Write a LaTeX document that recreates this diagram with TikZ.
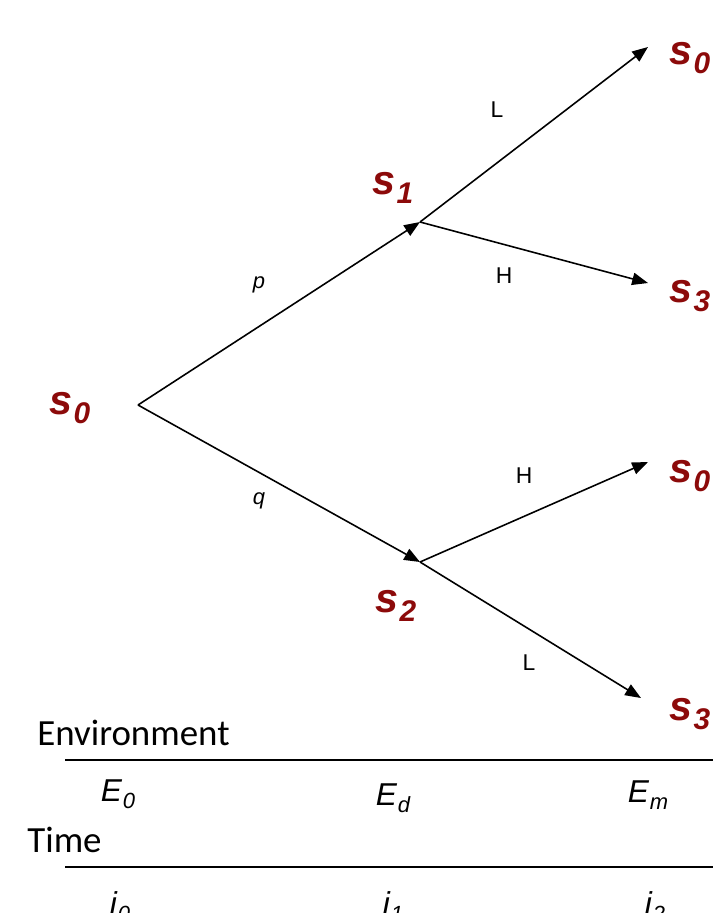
\documentclass[tikz,border=0pt]{standalone}
\usepackage{fontspec}
\setmainfont{Liberation Sans}
\newfontfamily\calfont{Carlito}
\usetikzlibrary{arrows.meta,positioning}

\definecolor{statered}{RGB}{140,10,10}

% state label s_k
\newcommand{\st}[1]{s\kern0.5pt\raisebox{-5pt}{\fontsize{17}{17}\selectfont #1}}
\newcommand{\ev}[1]{E\kern0.5pt\raisebox{-4pt}{\fontsize{12.5}{12.5}\selectfont #1}}
\newcommand{\ti}[1]{i\kern0.5pt\raisebox{-4pt}{\fontsize{12.5}{12.5}\selectfont #1}}

\begin{document}
\begin{tikzpicture}[
  x=0.02cm, y=-0.02cm,
  state/.style={text=statered, font=\fontsize{23.5}{23.5}\selectfont\bfseries\itshape,
                inner sep=0pt},
  move/.style={font=\fontsize{13}{13}\selectfont, inner sep=1pt},
  prob/.style={move, font=\fontsize{12.5}{12.5}\selectfont\itshape},
  axis/.style={font=\calfont\fontsize{21}{21}\selectfont, inner sep=0pt, anchor=west},
  tick/.style={font=\fontsize{18}{18}\selectfont\itshape, inner sep=0pt},
  branch/.style={-{Triangle[length=9pt,width=7pt]}, line width=0.9pt, black},
]
\clip (0,0) rectangle (713,913);

%% tree points
\coordinate (root) at (138,405);
\coordinate (j1)   at (420,222);
\coordinate (j2)   at (420,562);
\coordinate (t1)   at (648,47);
\coordinate (t2)   at (648,283);
\coordinate (t3)   at (648,462);
\coordinate (t4)   at (641,698);

%% state labels
\node[state] (s0root) at (70,408)  {\st{0}};
\node[state] (s1)     at (393,188) {\st{1}};
\node[state] (s2)     at (396,606) {\st{2}};
\node[state] (s0a)    at (690,58)  {\st{0}};
\node[state] (s3a)    at (690,296) {\st{3}};
\node[state] (s0b)    at (690,476) {\st{0}};
\node[state] (s3b)    at (690,714) {\st{3}};

%% branches
\draw[branch] (root) -- (j1);
\draw[branch] (root) -- (j2);
\draw[branch] (j1) -- (t1);
\draw[branch] (j1) -- (t2);
\draw[branch] (j2) -- (t3);
\draw[branch] (j2) -- (t4);

%% branch labels
\node[prob] (p)  at (259,285) {p};
\node[prob] (q)  at (259,501) {q};
\node[move] (L1) at (497,110) {L};
\node[move] (H1) at (504,276) {H};
\node[move] (H2) at (524,476) {H};
\node[move] (L2) at (529,663) {L};

%% environment and time rows
\node[axis] (env)  at (37,733) {Environment};
\coordinate (envl) at (65,760);
\coordinate (envr) at (713,760);
\draw[line width=0.9pt] (envl) -- (envr);
\node[tick] (e0) at (118,794) {\ev{0}};
\node[tick] (ed) at (393,798) {\ev{d}};
\node[tick] (em) at (648,795) {\ev{m}};

\node[axis] (time) at (27,840) {Time};
\coordinate (timel) at (65,867);
\coordinate (timer) at (713,867);
\draw[line width=0.9pt] (timel) -- (timer);
\node[tick] (i0) at (120,907) {\ti{0}};
\node[tick] (i1) at (393,907) {\ti{1}};
\node[tick] (i2) at (655,907) {\ti{2}};

\end{tikzpicture}
\end{document}
